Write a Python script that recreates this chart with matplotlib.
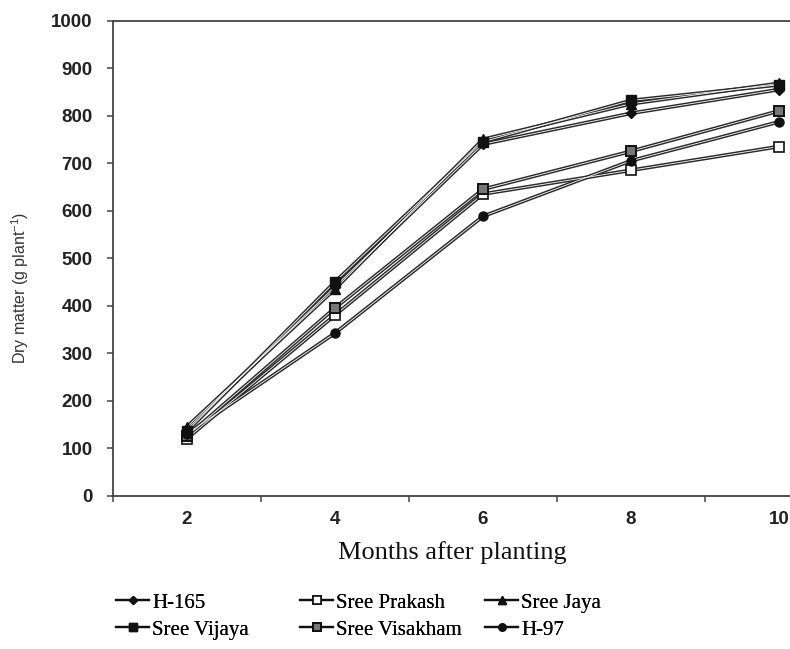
import matplotlib
matplotlib.use('Agg')
import matplotlib.pyplot as plt
from matplotlib.lines import Line2D

plt.rcParams['mathtext.fontset'] = 'custom'
plt.rcParams['mathtext.rm'] = 'Liberation Sans'
plt.rcParams['mathtext.it'] = 'Liberation Sans:italic'

# ---------------- data ----------------
months = [2, 4, 6, 8, 10]
month_labels = ['2', '4', '6', '8', '10']
y_ticks = [0, 100, 200, 300, 400, 500, 600, 700, 800, 900, 1000]

names = ['H-165', 'Sree Prakash', 'Sree Jaya', 'Sree Vijaya', 'Sree Visakham', 'H-97']
h165 = [140, 440, 740, 805, 855]
sree_prakash = [120, 380, 635, 685, 735]
sree_jaya = [145, 435, 750, 825, 868]
sree_vijaya = [135, 450, 745, 832, 865]
sree_visakham = [125, 395, 645, 725, 810]
h97 = [130, 342, 588, 705, 787]
series = [h165, sree_prakash, sree_jaya, sree_vijaya, sree_visakham, h97]

# marker styles per series
styles = [
    dict(marker='D', ms=5.5, mfc='#111111', mec='#111111'),
    dict(marker='s', ms=6.5, mfc='white', mec='#111111', mew=1.2),
    dict(marker='^', ms=7, mfc='#111111', mec='#111111'),
    dict(marker='s', ms=6.5, mfc='#111111', mec='#111111'),
    dict(marker='s', ms=6.5, mfc='#777777', mec='#111111', mew=1.4),
    dict(marker='o', ms=6.5, mfc='#111111', mec='#111111'),
]

W, H = 790, 649
fig = plt.figure(figsize=(W / 100, H / 100), dpi=100)
ax = fig.add_axes([113 / W, 1 - 495.5 / H, 740 / W, (495.5 - 20.7) / H])

line_col = '#2a2a2a'
for vals, st in zip(series, styles):
    ax.plot(months, vals, color=line_col, lw=2.7, solid_capstyle='butt', zorder=2)
    ax.plot(months, vals, color='white', lw=0.6, solid_capstyle='butt', zorder=2.1)
    ax.plot(months, vals, ls='none', zorder=3, **st)

ax.set_xlim(1, 11)
ax.set_ylim(0, 1000)
ax.set_xticks(months)
ax.set_xticklabels(month_labels)
ax.set_xticks([1, 3, 5, 7, 9, 11], minor=True)
ax.set_yticks(y_ticks)
ax.set_yticklabels([str(v) for v in y_ticks])

spine_col = '#444444'
for s in ['left', 'bottom', 'top']:
    ax.spines[s].set_color(spine_col)
    ax.spines[s].set_linewidth(1.3)
ax.spines['right'].set_visible(False)

ax.tick_params(axis='x', which='major', length=0, pad=11)
ax.tick_params(axis='x', which='minor', length=4, width=1.1, direction='out', color=spine_col)
ax.tick_params(axis='y', length=4.5, width=1.1, direction='out', color=spine_col, pad=10)
for lab in ax.get_xticklabels() + ax.get_yticklabels():
    lab.set_family('Liberation Sans')
    lab.set_fontweight('bold')
    lab.set_fontsize(13.5)
    lab.set_color('#222222')

fig.text(452 / W, 1 - 553 / H, 'Months after planting', ha='center', va='center',
         family='Liberation Serif', fontsize=19, color='#111111')
fig.text(20 / W, 1 - 288 / H, 'Dry matter (g plant$^{-1}$)', rotation=90,
         ha='center', va='center', family='Liberation Sans', fontsize=11.5, color='#333333')

# legend: three columns of two entries each
handles = []
for st in styles:
    st2 = dict(st)
    st2['ms'] = st['ms'] * 0.8
    handles.append(Line2D([0], [0], color='#111111', lw=1.6, **st2))

col_x = [116, 300, 485]
order = [(0, 3), (1, 4), (2, 5)]
for cx, (i, j) in zip(col_x, order):
    leg = fig.legend([handles[i], handles[j]], [names[i], names[j]],
                     loc='upper left', bbox_to_anchor=(cx / W, 1 - 593 / H),
                     frameon=False, borderpad=0, borderaxespad=0,
                     handlelength=1.6, handletextpad=0.15, labelspacing=0.36,
                     prop={'family': 'Liberation Serif', 'size': 15})
    fig.add_artist(leg)

fig.savefig('out.png', dpi=100)
